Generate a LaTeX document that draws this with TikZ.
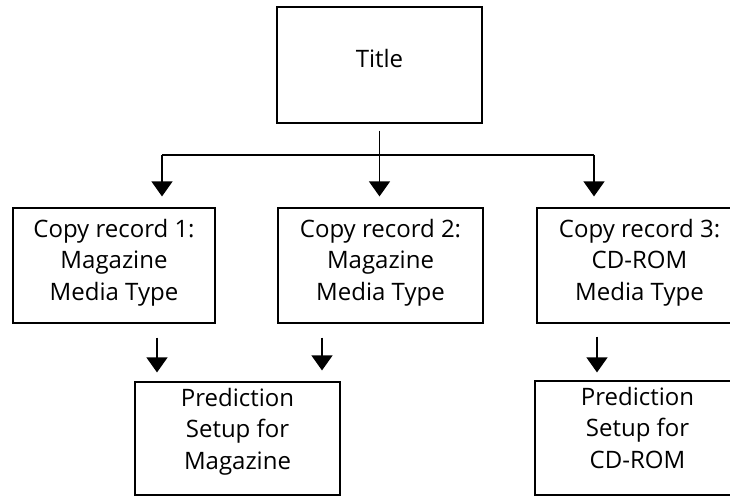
\documentclass[tikz,border=0pt]{standalone}
\usepackage{fontspec}
\setmainfont{Open Sans}
\usetikzlibrary{arrows.meta,positioning}

% text inside a box: height, top padding, lines
\newcommand{\boxtext}[3]{\parbox[c][#1][t]{200pt}{\centering\vspace*{#2}#3}}

\begin{document}
\begin{tikzpicture}[x=1pt,y=-1pt,>={Triangle[width=21pt,length=15pt]},line width=1.2pt,
    font=\fontsize{24}{31.5}\selectfont]
  \tikzset{box/.style={draw,inner sep=0pt,minimum width=205pt}}
  \useasboundingbox (0,0) rectangle (730,497);
  \node[box] (title) at (379.5, 65) {\boxtext{116pt}{42pt}{Title}};
  \node[box,minimum width=202pt] (c1) at (114, 265.5) {\boxtext{115pt}{11pt}{Copy record 1:\\Magazine\\Media Type}};
  \node[box] (c2) at (380.5, 265.5) {\boxtext{115pt}{11pt}{Copy record 2:\\Magazine\\Media Type}};
  \node[box] (c3) at (639.5, 265.5) {\boxtext{115pt}{11pt}{Copy record 3:\\CD-ROM\\Media Type}};
  \node[box] (p1) at (237.5, 438.5) {\boxtext{113pt}{6pt}{Prediction\\Setup for\\Magazine}};
  \node[box] (p3) at (637.5, 438) {\boxtext{114pt}{6pt}{Prediction\\Setup for\\CD-ROM}};
  % branch from the title
  \coordinate (j1) at (162, 155);
  \coordinate (j3) at (594, 155);
  \draw (j1) -- (j3);
  \draw[->,shorten <=7pt,shorten >=11pt] (title.south) -- (title.south |- c2.north);
  \draw[->,shorten >=11pt] (j1) -- (j1 |- c1.north);
  \draw[->,shorten >=11pt] (j3) -- (j3 |- c3.north);
  % copy records to predictions
  \coordinate (a1) at ([xshift=43pt]c1.south);
  \coordinate (a2) at ([xshift=-58.5pt]c2.south);
  \coordinate (a3) at ([xshift=-42.5pt]c3.south);
  \draw[->,shorten <=14pt,shorten >=9pt] (a1) -- (a1 |- p1.north);
  \draw[->,shorten <=14pt,shorten >=11pt] (a2) -- (a2 |- p1.north);
  \draw[->,shorten <=13pt,shorten >=8pt] (a3) -- (a3 |- p3.north);
\end{tikzpicture}
\end{document}
